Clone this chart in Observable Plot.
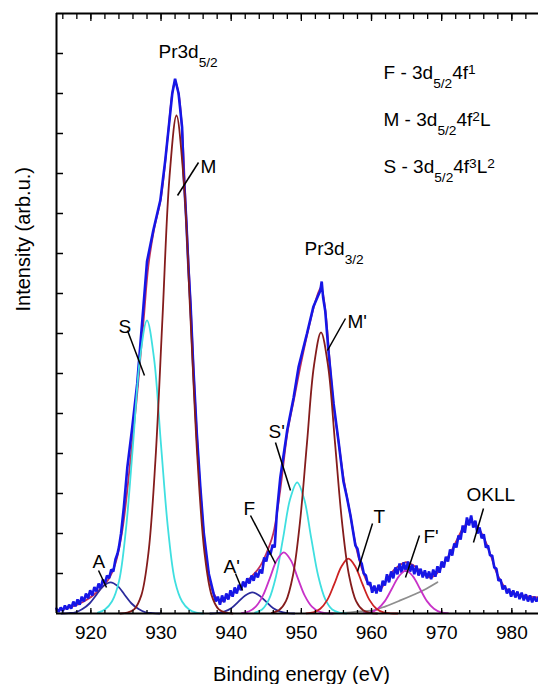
<!DOCTYPE html>
<html><head><meta charset="utf-8">
<script src="https://cdn.jsdelivr.net/npm/d3@7"></script>
<script src="https://cdn.jsdelivr.net/npm/@observablehq/plot@0.6"></script>
<style>body{margin:0;background:#fff;overflow:hidden} svg{display:block}</style>
</head><body><div id="chart"></div>
<script>
// ---- data (binding energy eV, intensity arb.u.) ----
const energyTicks = [920, 930, 940, 950, 960, 970, 980];
const minorTicks = [916,918,920,922,924,926,928,930,932,934,936,938,940,942,944,946,948,950,952,954,956,958,960,962,964,966,968,970,972,974,976,978,980,982];
const intensityTicks = [1,2,3,4,5,6,7,8,9,10,11,12,13,14];

const measured = [
[915.1,0.12],[915.4,0.04],[915.7,0.15],[916.0,0.06],[916.3,0.20],[916.6,0.10],[916.9,0.22],[917.2,0.12],[917.5,0.30],[917.8,0.18],
[918.1,0.35],[918.4,0.22],[918.7,0.42],[919.0,0.30],[919.3,0.50],[919.6,0.38],[919.9,0.58],[920.2,0.45],[920.5,0.66],[920.8,0.55],
[921.1,0.75],[921.4,0.62],[921.7,0.85],[922.0,0.75],[922.3,0.95],[922.6,0.88],[922.9,1.10],[923.2,1.05],[923.5,1.35],[923.8,1.50],
[924.0,1.66],[924.3,2.00],[924.7,2.66],[925.2,3.66],[925.9,4.66],[926.6,5.74],[927.1,6.83],[927.5,7.70],[928.0,8.80],[928.9,9.58],
[929.9,10.33],[930.6,11.33],[931.1,12.16],[931.6,13.00],[932.0,13.37],[932.5,13.00],[933.0,12.16],[933.2,11.07],[933.6,9.83],[933.9,8.66],
[934.2,7.75],[934.6,6.16],[935.1,4.49],[935.6,3.16],[936.1,2.00],[936.8,1.00],[937.5,0.49],[937.8,0.30],[938.1,0.42],[938.4,0.22],
[938.7,0.45],[939.0,0.28],[939.3,0.50],[939.6,0.35],[939.9,0.58],[940.2,0.42],[940.5,0.65],[940.8,0.50],[941.1,0.72],[941.4,0.58],
[941.7,0.80],[942.0,0.66],[942.3,0.88],[942.6,0.75],[942.9,0.95],[943.2,0.82],[943.5,1.02],[943.8,0.90],[944.1,1.10],[944.4,1.00],
[944.7,1.40],[945.0,1.30],[945.3,1.55],[945.6,1.48],[945.9,1.72],[946.2,1.65],[946.5,2.50],[947.0,3.40],[948.0,4.60],[948.9,5.40],
[949.6,6.16],[950.8,7.00],[951.7,7.66],[952.4,7.95],[952.7,8.07],[952.9,8.30],[953.1,7.90],[953.4,7.57],[953.9,6.49],[954.6,5.24],
[955.3,4.30],[956.0,3.30],[956.5,2.90],[957.0,2.45],[957.7,1.70],[958.0,1.62],[958.3,1.35],[958.6,1.25],[958.9,1.00],[959.2,0.95],
[959.5,0.72],[959.8,0.78],[960.1,0.52],[960.4,0.70],[960.7,0.50],[961.0,0.72],[961.3,0.55],[961.6,0.82],[961.9,0.70],[962.2,0.98],
[962.5,0.78],[962.8,1.05],[963.1,0.88],[963.4,1.15],[963.7,0.98],[964.0,1.25],[964.3,1.02],[964.6,1.28],[964.9,1.05],[965.2,1.30],
[965.5,1.05],[965.8,1.22],[966.1,0.98],[966.4,1.20],[966.7,0.95],[967.0,1.12],[967.3,0.90],[967.6,1.08],[967.9,0.88],[968.2,1.05],
[968.5,0.86],[968.8,1.10],[969.1,0.92],[969.4,1.18],[969.7,1.02],[970.0,1.30],[970.3,1.15],[970.6,1.42],[970.9,1.30],[971.2,1.60],
[971.5,1.45],[971.8,1.75],[972.1,1.65],[972.4,1.95],[972.7,1.85],[973.0,2.20],[973.3,2.02],[973.6,2.40],[973.9,2.20],[974.2,2.45],
[974.5,2.15],[974.8,2.32],[975.1,2.00],[975.4,2.15],[975.7,1.88],[976.0,1.98],[976.3,1.65],[976.6,1.70],[976.9,1.45],[977.2,1.45],
[977.5,1.15],[977.8,1.12],[978.1,0.82],[978.4,0.85],[978.7,0.60],[979.0,0.70],[979.3,0.50],[979.6,0.62],[979.9,0.42],[980.2,0.58],
[980.5,0.40],[980.8,0.55],[981.1,0.36],[981.4,0.52],[981.7,0.33],[982.0,0.48],[982.3,0.30],[982.6,0.45],[982.9,0.28],[983.2,0.42],
[983.5,0.30],[983.8,0.40]
];

const envelope = [
[915.1,0.08],[917,0.15],[919,0.30],[921,0.55],[922.5,0.85],[923.5,1.25],[924.5,2.1],[925.5,3.6],[926.5,5.3],[927.5,7.3],
[928.2,8.7],[929,9.6],[930,10.4],[931,12.0],[931.6,13.0],[932.0,13.3],[932.5,13.0],[933.0,12.1],[933.6,9.9],[934.2,7.8],
[935.1,4.5],[936.1,2.0],[936.8,1.0],[937.5,0.5],[938.5,0.3],[939.5,0.42],[941,0.6],[942.5,0.85],[944,1.15],[945,1.5],
[946,2.0],[947,3.1],[948,4.5],[949,5.4],[950,6.3],[951,7.1],[952,7.8],[952.8,8.15],[953.4,7.6],[954,6.4],
[954.6,5.2],[955.3,4.3],[956,3.4],[957,2.45],[957.7,1.75],[958.4,1.25],[959.3,0.82],[960.3,0.62],[961.2,0.6],[962,0.8],
[963.1,1.07],[964.8,1.28],[966,1.2],[966.9,1.07],[968.4,0.9],[969.3,1.0],[970.3,1.25],[971.2,1.5],[972.2,1.85],[973.1,2.15],
[974.1,2.3],[975,2.2],[976,1.9],[977,1.45],[978,0.95],[979.3,0.6],[981,0.47],[983.7,0.4]
];

const peakA = [[915.8,0],[916.8,0.01],[917.8,0.03],[918.8,0.11],[919.8,0.25],[920.8,0.47],[921.8,0.69],[922.8,0.78],[923.8,0.69],[924.8,0.47],[925.8,0.25],[926.8,0.11],[927.8,0.03],[928.8,0.01],[929.8,0]];
const peakS = [[921,0.02],[922,0.1],[923,0.3],[924,0.8],[925,2.11],[926,4.21],[927,6.38],[928,7.33],[929,6.38],[930,4.21],[931,2.11],[932,0.8],[933,0.3],[934,0.1],[935,0.02],[936,0]];
const peakM = [[924.2,0],[925.2,0.02],[926.2,0.11],[927.2,0.46],[928.2,1.51],[929.2,3.83],[930.2,7.37],[931.2,10.9],[932.2,12.45],[933.2,10.9],[934.2,7.37],[935.2,3.83],[936.2,1.51],[937.2,0.46],[938.2,0.11],[939.2,0.02],[940.2,0]];
const peakA2 = [[937,0],[938,0.01],[939,0.045],[940,0.13],[941,0.29],[942,0.45],[943,0.53],[944,0.45],[945,0.29],[946,0.13],[947,0.045],[948,0.01],[949,0]];
const peakF = [[941.5,0.01],[942.5,0.05],[943.5,0.17],[944.5,0.44],[945.5,0.88],[946.5,1.33],[947.5,1.53],[948.5,1.33],[949.5,0.88],[950.5,0.44],[951.5,0.17],[952.5,0.05],[953.5,0.01],[954.5,0]];
const peakS2 = [[943.4,0.02],[944.4,0.1],[945.4,0.36],[946.4,0.94],[947.4,1.89],[948.4,2.86],[949.4,3.28],[950.4,2.86],[951.4,1.89],[952.4,0.94],[953.4,0.36],[954.4,0.1],[955.4,0.02],[956.4,0]];
const peakM2 = [[945.8,0.015],[946.8,0.08],[947.8,0.31],[948.8,0.95],[949.8,2.28],[950.8,4.26],[951.8,6.2],[952.8,7.03],[953.8,6.2],[954.8,4.26],[955.8,2.28],[956.8,0.95],[957.8,0.31],[958.8,0.08],[959.8,0.015],[960.8,0]];
const peakT = [[950.7,0.005],[951.7,0.03],[952.7,0.12],[953.7,0.34],[954.7,0.74],[955.7,1.17],[956.7,1.37],[957.7,1.17],[958.7,0.74],[959.7,0.34],[960.7,0.12],[961.7,0.03],[962.7,0.005],[963.7,0]];
const peakF2 = [[958.9,0.007],[959.9,0.03],[960.9,0.12],[961.9,0.31],[962.9,0.62],[963.9,0.93],[964.9,1.07],[965.9,0.93],[966.9,0.62],[967.9,0.31],[968.9,0.12],[969.9,0.03],[970.9,0.007]];
const background = [[953,0],[955,0.01],[957,0.03],[959,0.06],[960.3,0.08],[962,0.18],[964,0.32],[966,0.47],[967.4,0.58],[969.4,0.78]];

const peakLabels = [
  {label: "Pr3d_{5/2}", e: 929.64, v: 13.9},
  {label: "Pr3d_{3/2}", e: 950.45, v: 8.975},
  {label: "M", e: 935.62, v: 11.025},
  {label: "S", e: 923.94, v: 7.025},
  {label: "A", e: 920.23, v: 1.15},
  {label: "A'", e: 938.9, v: 1.025},
  {label: "F", e: 941.75, v: 2.475},
  {label: "S'", e: 945.32, v: 4.4},
  {label: "M'", e: 956.58, v: 7.15},
  {label: "T", e: 960.28, v: 2.275},
  {label: "F'", e: 967.4, v: 1.775},
  {label: "OKLL", e: 973.54, v: 2.825}
];
const leaders = [
  {e1: 935.34, v1: 11.275, e2: 932.35, v2: 10.45},
  {e1: 925.22, v1: 7.075, e2: 927.64, v2: 5.95},
  {e1: 921.09, v1: 1.075, e2: 922.23, v2: 0.65},
  {e1: 940.61, v1: 1.0, e2: 941.61, v2: 0.575},
  {e1: 942.75, v1: 2.45, e2: 946.31, v2: 1.25},
  {e1: 946.31, v1: 4.275, e2: 948.45, v2: 3.075},
  {e1: 956.29, v1: 7.375, e2: 953.72, v2: 6.575},
  {e1: 960.14, v1: 2.25, e2: 958.0, v2: 1.05},
  {e1: 966.84, v1: 1.95, e2: 964.84, v2: 0.9},
  {e1: 975.96, v1: 2.625, e2: 974.53, v2: 1.775}
];
const legendLines = [
  {label: "F - 3d_{5/2}4f^{1}", e: 961.71, v: 13.375},
  {label: "M - 3d_{5/2}4f^{2}L", e: 961.71, v: 12.2},
  {label: "S - 3d_{5/2}4f^{3}L^{2}", e: 961.71, v: 11.025}
];

// ---- chart ----
const X = d => d[0], Y = d => d[1];
const comp = (data, color) => Plot.line(data, {x: X, y: Y, stroke: color, strokeWidth: 1.8, curve: "catmull-rom"});
const noText = () => "";

const chart = Plot.plot({
  width: 538, height: 684,
  marginLeft: 56, marginRight: 0, marginTop: 13, marginBottom: 71,
  style: {fontFamily: "'Liberation Sans', Arial, sans-serif", fontSize: "19px", background: "#fff", color: "#000", overflow: "visible"},
  x: {domain: [915.1, 983.8], axis: null},
  y: {domain: [0, 15], axis: null},
  marks: [
    Plot.line(envelope, {x: X, y: Y, stroke: "#c0305a", strokeWidth: 1.8, curve: "catmull-rom"}),
    Plot.line(measured, {x: X, y: Y, stroke: "#1616e6", strokeWidth: 2.6, strokeLinejoin: "miter"}),
    comp(background, "#8e8e8e"),
    comp(peakA, "#2b2b9c"),
    comp(peakA2, "#2b2b9c"),
    comp(peakS, "#3fdfe0"),
    comp(peakS2, "#3fdfe0"),
    comp(peakF, "#c832c8"),
    comp(peakF2, "#c832c8"),
    comp(peakT, "#cc2222"),
    comp(peakM, "#841c1c"),
    comp(peakM2, "#841c1c"),
    // frame
    Plot.ruleY([0], {stroke: "#000", strokeWidth: 2}),
    Plot.ruleY([15], {stroke: "#000", strokeWidth: 2}),
    Plot.ruleX([915.1], {stroke: "#000", strokeWidth: 2}),
    // inward ticks
    Plot.axisX({anchor: "bottom", ticks: minorTicks, tickSize: 3, dy: -3, tickFormat: noText, label: null, strokeWidth: 1.3}),
    Plot.axisX({anchor: "bottom", ticks: energyTicks, tickSize: 5, dy: -5, tickFormat: noText, label: null, strokeWidth: 1.3}),
    Plot.axisX({anchor: "top", ticks: minorTicks, tickSize: 5, dy: 5, tickFormat: noText, label: null, strokeWidth: 1.3}),
    Plot.axisX({anchor: "top", ticks: energyTicks, tickSize: 7, dy: 7, tickFormat: noText, label: null, strokeWidth: 1.3}),
    Plot.axisY({anchor: "left", ticks: intensityTicks, tickSize: 7, dx: 7, tickFormat: noText, label: null, strokeWidth: 1.5}),
    // tick labels
    Plot.axisX({anchor: "bottom", ticks: energyTicks, tickSize: 0, tickPadding: 12, label: null, fontSize: 19}),
    // axis titles
    Plot.text(["Binding energy (eV)"], {text: d => d, frameAnchor: "bottom", dy: 67, dx: 4, lineAnchor: "bottom", fontSize: 20}),
    Plot.text(["Intensity (arb.u.)"], {text: d => d, frameAnchor: "left", rotate: -90, dx: -27, dy: -2, lineAnchor: "bottom", fontSize: 20}),
    // annotations
    Plot.link(leaders, {x1: "e1", y1: "v1", x2: "e2", y2: "v2", stroke: "#000", strokeWidth: 1.5}),
    Plot.text(peakLabels, {x: "e", y: "v", text: "label", textAnchor: "start", lineAnchor: "bottom", fontSize: 19, fill: "#000"}),
    Plot.text(legendLines, {x: "e", y: "v", text: "label", textAnchor: "start", lineAnchor: "bottom", fontSize: 19, fill: "#000"})
  ]
});
document.getElementById("chart").appendChild(chart);

// turn _{..} / ^{..} markup into sub/superscript tspans
d3.select(chart).selectAll("text").each(function() {
  const t = this.textContent;
  if (!/[_^]\{/.test(t)) return;
  const size = parseFloat(getComputedStyle(this).fontSize) || 19;
  const el = d3.select(this);
  el.text(null);
  const re = /([_^])\{([^}]*)\}|([^_^]+)/g;
  let m, shift = 0;
  while ((m = re.exec(t))) {
    let target = 0, txt = m[3], small = false;
    if (m[1]) { txt = m[2]; small = true; target = m[1] === "_" ? 0.5 * size : -0.22 * size; }
    const ts = el.append("tspan").text(txt).attr("dy", target - shift);
    if (small) ts.attr("font-size", (size * 0.72).toFixed(1));
    shift = target;
  }
});
</script></body></html>
